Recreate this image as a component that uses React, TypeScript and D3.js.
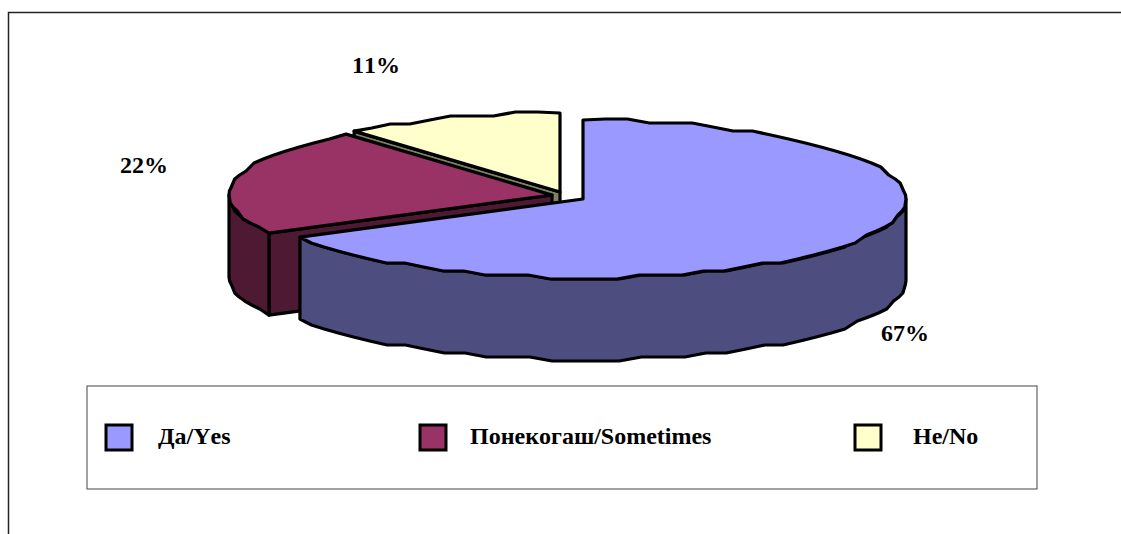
import * as d3 from "d3";

const categories = ["Да/Yes", "Понекогаш/Sometimes", "Не/No"];
const values = [67, 22, 11];
const percentLabels = ["67%", "22%", "11%"];
const topColors = ["#9999ff", "#993366", "#ffffcc"];
const sideColors = ["#4d4d80", "#4d1933", "#808066"];

const width = 1121;
const height = 534;
const rx = 323;
const ry = 79;
const depth = 82;
const centers = [
  { x: 583, y: 199 },
  { x: 552, y: 195 },
  { x: 560, y: 192 },
];
const labelPos = [
  { x: 905, y: 341 },
  { x: 144, y: 173 },
  { x: 376, y: 73 },
];
const legendX = [{ box: 106, text: 158 }, { box: 420, text: 470 }, { box: 855, text: 913 }];

const font = "'Liberation Serif', 'Times New Roman', serif";
const TAU = Math.PI * 2;

// the original is a low-res metafile, so the rim gets snapped to a coarse grid
const snap = (v: number, g: number) => Math.round(v / g) * g;

function rim(c: { x: number; y: number }, a: number, drop = 0): [number, number] {
  return [c.x + rx * Math.sin(a), c.y - ry * Math.cos(a) + drop];
}

function rimPoints(c: { x: number; y: number }, a0: number, a1: number, drop = 0): [number, number][] {
  const n = Math.max(2, Math.ceil(Math.abs(a1 - a0) / (TAU / 90)));
  const pts: [number, number][] = [];
  for (let i = 0; i <= n; i++) {
    const a = a0 + ((a1 - a0) * i) / n;
    const [x, y] = rim(c, a, drop);
    if (i === 0 || i === n) pts.push([x, y]);
    else pts.push([x, c.y + drop + snap(y - c.y - drop, 4)]);
  }
  return pts;
}

const line = d3.line();

export default function App() {
  const arcs = d3.pie<number>().sort(null)(values);
  const [blue, red, yellow] = arcs;

  const topPath = (i: number) => {
    const c = centers[i];
    const a = arcs[i];
    return line([[c.x, c.y], ...rimPoints(c, a.startAngle, a.endAngle)]) + "Z";
  };
  const outerWall = (i: number, a0: number, a1: number) => {
    const c = centers[i];
    return line([...rimPoints(c, a0, a1), ...rimPoints(c, a1, a0, depth)]) + "Z";
  };
  const cutFace = (i: number, a: number) => {
    const c = centers[i];
    const [x, y] = rim(c, a);
    return line([[c.x, c.y], [x, y], [x, y + depth], [c.x, c.y + depth]]) + "Z";
  };

  const stroke = { stroke: "#000", strokeWidth: 3.2, strokeLinejoin: "round" as const };

  return (
    <svg
      width={width}
      height={height}
      style={{ position: "absolute", left: 0, top: 0, background: "#fff", fontKerning: "none" }}
    >
      <path d={`M8.5,534V12.5H${width}`} fill="none" stroke="#222" strokeWidth={1.5} />

      {/* back to front: yellow, red, blue */}
      <path d={cutFace(2, yellow.startAngle)} fill={sideColors[2]} {...stroke} />
      <path d={topPath(2)} fill={topColors[2]} {...stroke} />

      <path d={cutFace(1, red.startAngle)} fill={sideColors[1]} {...stroke} />
      <path d={outerWall(1, red.startAngle, (TAU * 3) / 4)} fill={sideColors[1]} {...stroke} />
      <path d={topPath(1)} fill={topColors[1]} {...stroke} />

      <path d={outerWall(0, TAU / 4, blue.endAngle)} fill={sideColors[0]} {...stroke} />
      <path d={topPath(0)} fill={topColors[0]} {...stroke} />

      {percentLabels.map((t, i) => (
        <text
          key={t}
          x={labelPos[i].x}
          y={labelPos[i].y}
          textAnchor="middle"
          fontFamily={font}
          fontWeight="bold"
          fontSize={24}
          fill="#000"
        >
          {t}
        </text>
      ))}

      <rect x={87} y={386} width={950} height={103} fill="#fff" stroke="#444" strokeWidth={1} />
      {categories.map((t, i) => (
        <g key={t}>
          <rect
            x={legendX[i].box}
            y={425}
            width={26}
            height={25}
            fill={topColors[i]}
            stroke="#000"
            strokeWidth={3}
          />
          <text x={legendX[i].text} y={444} fontFamily={font} fontWeight="bold" fontSize={24} fill="#000">
            {t}
          </text>
        </g>
      ))}
    </svg>
  );
}
